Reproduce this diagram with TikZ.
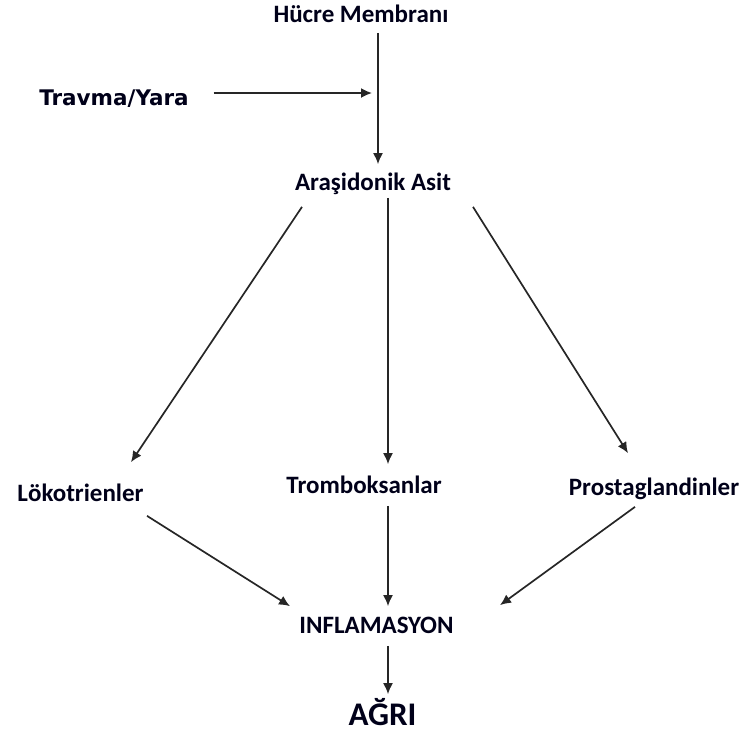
\documentclass[tikz,border=0pt]{standalone}
\usepackage{fontspec}
\setmainfont{Carlito}
\newfontfamily\wideFont{DejaVu Sans}
\usetikzlibrary{arrows.meta}

\begin{document}
\begin{tikzpicture}[
  x=1pt, y=-1pt,
  line width=1.7pt,
  akis/.style={draw=black!85, -{Latex[length=11pt,width=10pt]}},
  etiket/.style={inner sep=0pt, anchor=base, text=black!90!blue,
    text height=17pt, text depth=5pt, font=\fontsize{25pt}{25pt}\bfseries\selectfont}
]
  \useasboundingbox (0,0) rectangle (749,732);
  % ---- kutular (taban çizgisine göre) ----
  \node[etiket] (hucre)        at (361,  22) {Hücre Membranı};
  \node[etiket, text height=16pt, font=\fontsize{21.5pt}{21.5pt}\wideFont\bfseries\selectfont]
                (travma)       at (114, 105) {Travma/Yara};
  \node[etiket] (arasidonik)   at (373, 190) {Araşidonik Asit};
  \node[etiket] (lokotrien)    at (80.5,501) {Lökotrienler};
  \node[etiket] (tromboksan)   at (364, 493) {Tromboksanlar};
  \node[etiket] (prostaglandin) at (654,495) {Prostaglandinler};
  \node[etiket] (inflamasyon)  at (376.5,633) {INFLAMASYON};
  \node[etiket, text height=23pt, font=\fontsize{33pt}{33pt}\bfseries\selectfont]
                (agri)         at (382.5,725) {AĞRI};
  \coordinate (birlesme) at (372,93);
  % ---- oklar ----
  \draw[akis] ([shift={(17pt,-5pt)}]hucre.south) -- ([shift={(5pt,8pt)}]arasidonik.north);
  \draw[akis, shorten <=24pt] (travma.east |- birlesme) -- (birlesme);
  \draw[akis] ([shift={(-71pt,-11pt)}]arasidonik.south) -- ([shift={(50.5pt,21pt)}]lokotrien.north);
  \draw[akis] ([shift={(15pt,-2pt)}]arasidonik.south) -- ([shift={(24pt,11pt)}]tromboksan.north);
  \draw[akis] ([shift={(100pt,-11pt)}]arasidonik.south) -- ([shift={(-26pt,24pt)}]prostaglandin.north);
  \draw[akis] ([shift={(66.5pt,-9pt)}]lokotrien.south) -- ([shift={(-86.5pt,9pt)}]inflamasyon.north);
  \draw[akis] ([shift={(24pt,-7pt)}]tromboksan.south) -- ([shift={(11.5pt,9pt)}]inflamasyon.north);
  \draw[akis] ([shift={(-19pt,-6pt)}]prostaglandin.south) -- ([shift={(123.5pt,10pt)}]inflamasyon.north);
  \draw[akis] ([shift={(11.5pt,-7pt)}]inflamasyon.south) -- ([shift={(5.5pt,7pt)}]agri.north);
\end{tikzpicture}
\end{document}
